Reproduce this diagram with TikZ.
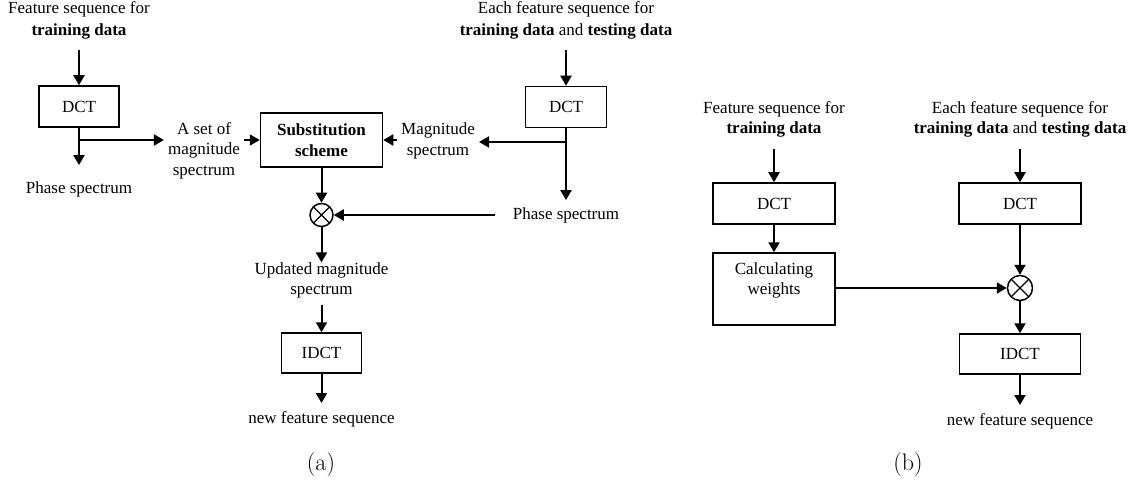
\documentclass[tikz,border=0pt]{standalone}
\usepackage{fontspec}
\newfontfamily\tnr{Liberation Serif}
\usetikzlibrary{arrows.meta}
\begin{document}
\begin{tikzpicture}[x=1pt,y=-1pt,
  every node/.style={font=\tnr\fontsize{17}{20.5}\selectfont},
  lbl/.style={align=center,inner xsep=4pt,inner ysep=0pt},
  hdr/.style={align=center,inner sep=0pt,font=\tnr\fontsize{17}{22}\selectfont},
  box/.style={draw,line width=1.5pt,align=center,inner sep=0pt},
  arr/.style={line width=2pt,-{Triangle[length=10pt,width=11pt]}},
  mult/.style={draw,circle,line width=1.5pt,minimum size=24pt,inner sep=0pt,
    path picture={\draw[line width=1.3pt] (path picture bounding box.south west) -- (path picture bounding box.north east)
      (path picture bounding box.north west) -- (path picture bounding box.south east);}},
  subcap/.style={font=\normalfont\fontsize{24}{28}\selectfont,inner sep=0pt}
]
\path[use as bounding box] (0,0) rectangle (1133,484);

% ---------------- (a) ----------------
\node[hdr] (t1) at (79,20) {Feature sequence for\\\textbf{training data}};
\node[box,minimum width=80pt,minimum height=41pt] (dct1) at (79,106.5) {DCT};
\node[lbl] (ph1) at (79,189) {Phase spectrum};
\node[lbl] (aset) at (204,150.5) {A set of\\magnitude\\spectrum};
\node[box,minimum width=122pt,minimum height=54pt] (sub) at (321.5,140) {\textbf{Substitution}\\\textbf{scheme}};
\node[lbl] (mag) at (438,141) {Magnitude\\spectrum};
\node[hdr] (t2) at (566,20) {Each feature sequence for\\\textbf{training data} and \textbf{testing data}};
\node[box,minimum width=81pt,minimum height=41pt] (dct2) at (566,107) {DCT};
\node[lbl] (ph2) at (566,215) {Phase spectrum};
\node[mult,minimum size=23pt] (ox1) at (321.5,215) {};
\node[lbl] (upd) at (321.5,280.5) {Updated magnitude\\spectrum};
\node[box,minimum width=80pt,minimum height=40pt] (idct1) at (321.5,353) {IDCT};
\node[lbl] (new1) at (321.5,419) {new feature sequence};
\node[subcap] (capa) at (321,465) {(a)};

\coordinate (b1) at (79,140);
\coordinate (b2) at (566,142);

\draw[arr,shorten <=11pt] (t1.south) -- (dct1.north);
\draw[arr,shorten >=16pt] (dct1.south) -- (ph1.north);
\draw[arr] (b1) -- (b1 -| aset.west);
\draw[arr] (aset.east |- sub) -- (sub.west);
\draw[arr,shorten <=11pt] (t2.south) -- (dct2.north);
\draw[arr,shorten >=7pt] (dct2.south) -- (ph2.north);
\draw[arr] (b2) -- (b2 -| mag.east);
\draw[arr] (mag.west |- sub) -- (sub.east);
\draw[arr] (sub.south) -- (ox1.north);
\draw[arr] ([xshift=-14pt]ph2.west) -- (ox1.east);
\draw[arr] (ox1.south) -- (upd.north);
\draw[arr,shorten <=6pt] (upd.south) -- (idct1.north);
\draw[arr,shorten >=8pt] (idct1.south) -- (new1.north);

% ---------------- (b) ----------------
\node[hdr,font=\tnr\fontsize{17}{20}\selectfont] (t3) at (774,119.5) {Feature sequence for\\\textbf{training data}};
\node[hdr,font=\tnr\fontsize{17}{20}\selectfont] (t4) at (1020,119.5) {Each feature sequence for\\\textbf{training data} and \textbf{testing data}};
\node[box,minimum width=122pt,minimum height=41pt] (dct3) at (774,203.5) {DCT};
\node[box,minimum width=122pt,minimum height=41pt] (dct4) at (1020,203.5) {DCT};
\node[box,minimum width=122pt,minimum height=72pt,font=\tnr\fontsize{17}{20}\selectfont] (calc) at (774,289) {Calculating\\weights\\\mbox{}};
\node[mult,minimum size=25pt] (ox2) at (1020,288) {};
\node[box,minimum width=121pt,minimum height=40pt] (idct2) at (1020,354) {IDCT};
\node[lbl] (new2) at (1020,421) {new feature sequence};
\node[subcap] (capb) at (908,465) {(b)};

\draw[arr,shorten <=11pt] (t3.south) -- (dct3.north);
\draw[arr,shorten <=11pt] (t4.south) -- (dct4.north);
\draw[arr] (dct3.south) -- (calc.north);
\draw[arr] (dct4.south) -- (ox2.north);
\draw[arr] (calc.east |- ox2) -- (ox2.west);
\draw[arr] (ox2.south) -- (idct2.north);
\draw[arr,shorten >=8pt] (idct2.south) -- (new2.north);
\end{tikzpicture}
\end{document}
